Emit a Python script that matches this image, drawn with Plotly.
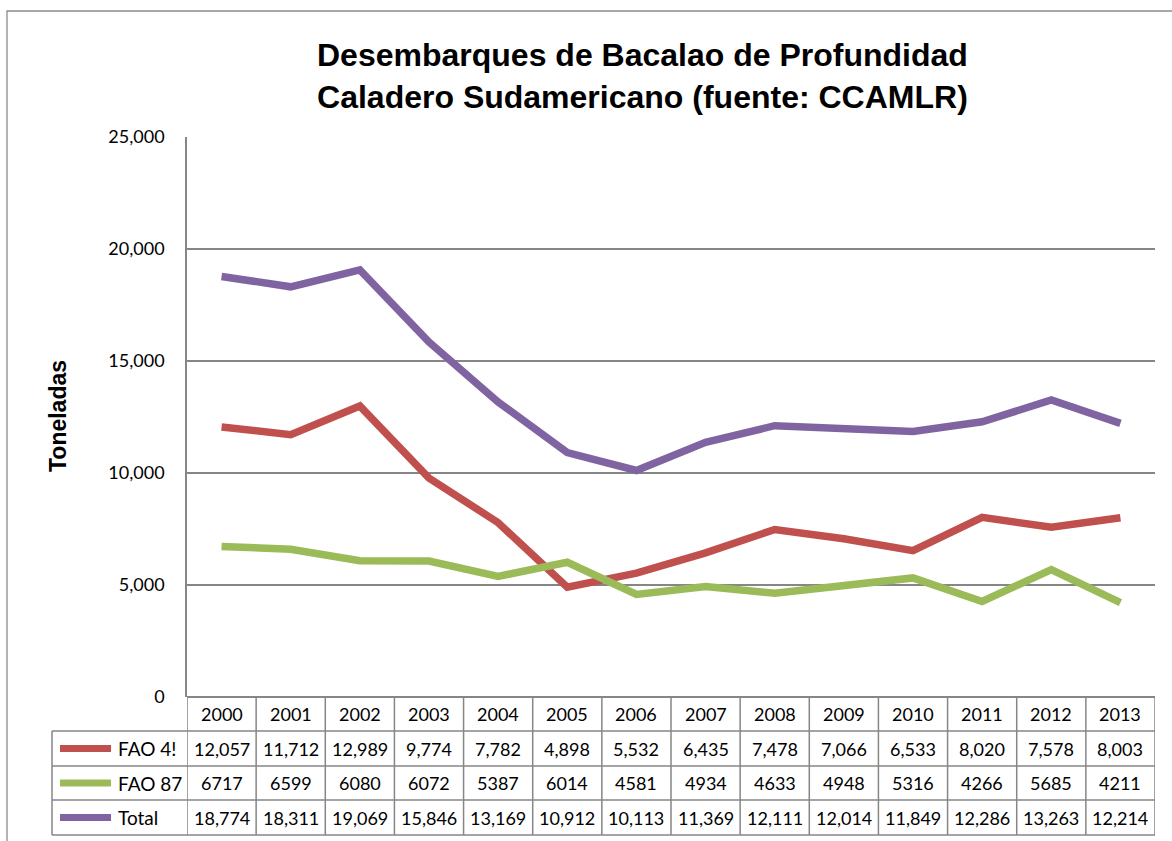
import plotly.graph_objects as go

years = ["2000", "2001", "2002", "2003", "2004", "2005", "2006",
         "2007", "2008", "2009", "2010", "2011", "2012", "2013"]
fao41 = [12057, 11712, 12989, 9774, 7782, 4898, 5532, 6435, 7478, 7066, 6533, 8020, 7578, 8003]
fao87 = [6717, 6599, 6080, 6072, 5387, 6014, 4581, 4934, 4633, 4948, 5316, 4266, 5685, 4211]
total = [18774, 18311, 19069, 15846, 13169, 10912, 10113, 11369, 12111, 12014, 11849, 12286, 13263, 12214]

series_names = ["FAO 4!", "FAO 87", "Total"]
series_values = [fao41, fao87, total]
series_colors = ["#C0504D", "#9BBB59", "#8064A2"]
series_comma = [True, False, True]

title_lines = ["Desembarques de Bacalao de Profundidad", "Caladero Sudamericano (fuente: CCAMLR)"]
y_title = "Toneladas"
y_ticks = [0, 5000, 10000, 15000, 20000, 25000]

W, H = 1172, 841
ML, MR, MT, MB = 187, 17, 137, 144
PW = W - ML - MR
PH = H - MT - MB
GRID = "#868686"
FONT = "Lato, 'Open Sans', sans-serif"
ARIAL = "'Liberation Sans', Arial, sans-serif"


def px_to_paper_x(px):
    return (px - ML) / PW


def px_to_paper_y(py):
    return (H - MB - py) / PH


fig = go.Figure()
xi = list(range(len(years)))
for name, vals, col in zip(series_names, series_values, series_colors):
    fig.add_trace(go.Scatter(x=xi, y=vals, mode="lines", name=name,
                             line=dict(color=col, width=7.5), showlegend=False,
                             hoverinfo="x+y"))

shapes = []
annotations = []

# outer chart border
shapes.append(dict(type="rect", xref="paper", yref="paper",
                   x0=px_to_paper_x(7), x1=px_to_paper_x(1200),
                   y0=px_to_paper_y(11), y1=px_to_paper_y(900),
                   line=dict(color="#8c8c8c", width=1.3), layer="below"))

# table geometry (pixel rows)
row_edges = [697, 731, 766, 800, 835]
legend_left = 52
n = len(years)

for ry in row_edges[1:]:
    shapes.append(dict(type="line", xref="paper", yref="paper",
                       x0=px_to_paper_x(legend_left), x1=1,
                       y0=px_to_paper_y(ry), y1=px_to_paper_y(ry),
                       line=dict(color=GRID, width=1.5)))
for k in range(n + 1):
    shapes.append(dict(type="line", xref="x", yref="paper",
                       x0=k - 0.5, x1=k - 0.5,
                       y0=px_to_paper_y(row_edges[0]), y1=px_to_paper_y(row_edges[-1]),
                       line=dict(color=GRID, width=1.5)))
shapes.append(dict(type="line", xref="paper", yref="paper",
                   x0=px_to_paper_x(legend_left), x1=px_to_paper_x(legend_left),
                   y0=px_to_paper_y(row_edges[1]), y1=px_to_paper_y(row_edges[-1]),
                   line=dict(color=GRID, width=1.5)))

hy = px_to_paper_y((row_edges[0] + row_edges[1]) / 2)
for k, yr in enumerate(years):
    annotations.append(dict(x=k, y=hy, xref="x", yref="paper", text=yr, showarrow=False,
                            font=dict(size=18, color="#000", family=FONT),
                            xanchor="center", yanchor="middle"))

for r, (name, vals, col, comma) in enumerate(zip(series_names, series_values, series_colors, series_comma)):
    cy = px_to_paper_y((row_edges[r + 1] + row_edges[r + 2]) / 2)
    shapes.append(dict(type="line", xref="paper", yref="paper",
                       x0=px_to_paper_x(60), x1=px_to_paper_x(111), y0=cy, y1=cy,
                       line=dict(color=col, width=7)))
    annotations.append(dict(x=px_to_paper_x(116), y=cy, xref="paper", yref="paper",
                            text=name, showarrow=False, xanchor="left", yanchor="middle",
                            font=dict(size=19, color="#000", family=FONT)))
    for k, v in enumerate(vals):
        txt = f"{v:,}" if comma else f"{v}"
        annotations.append(dict(x=k, y=cy, xref="x", yref="paper", text=txt, showarrow=False,
                                font=dict(size=18, color="#000", family=FONT),
                                xanchor="center", yanchor="middle"))

annotations.append(dict(x=px_to_paper_x(642), y=px_to_paper_y(76), xref="paper", yref="paper",
                        text="<br>".join("<b>" + t + "</b>" for t in title_lines), showarrow=False,
                        xanchor="center", yanchor="middle",
                        font=dict(size=32, color="#000", family=ARIAL)))
annotations.append(dict(x=px_to_paper_x(58), y=px_to_paper_y(416), xref="paper", yref="paper",
                        text="<b>" + y_title + "</b>", showarrow=False, textangle=-90,
                        xanchor="center", yanchor="middle",
                        font=dict(size=23, color="#000", family=ARIAL)))

fig.update_layout(
    width=W, height=H,
    margin=dict(l=ML, r=MR, t=MT, b=MB),
    paper_bgcolor="white", plot_bgcolor="white",
    shapes=shapes, annotations=annotations,
    xaxis=dict(range=[-0.5, n - 0.5], showticklabels=False, showgrid=False,
               zeroline=False, showline=False, fixedrange=True),
    yaxis=dict(range=[0, 25000], tickvals=y_ticks, tickformat=",d",
               showgrid=True, gridcolor=GRID, gridwidth=1.5,
               zeroline=True, zerolinecolor=GRID, zerolinewidth=1.5,
               showline=True, linecolor=GRID, linewidth=1.5,
               ticks="", ticklabelstandoff=17,
               tickfont=dict(size=18, color="#000", family=FONT)),
)

fig.write_html("out.html", config={"displayModeBar": False},
               post_script="document.body.style.margin='0';document.body.style.overflow='hidden';")
